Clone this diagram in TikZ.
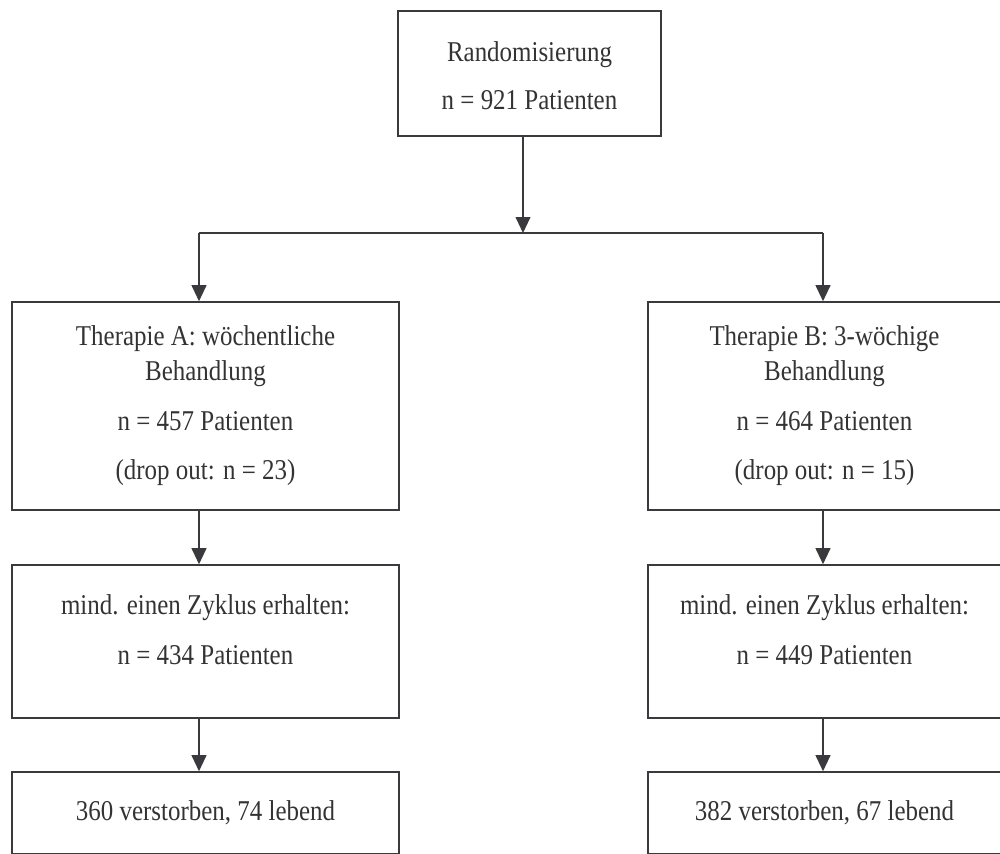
\documentclass[tikz,border=0pt]{standalone}
\usepackage{fontspec}
\setmainfont[FakeStretch=0.87]{Liberation Serif}
\usetikzlibrary{arrows.meta}
\definecolor{strich}{HTML}{3A3A3E}
\definecolor{schrift}{HTML}{333333}

\begin{document}
\begin{tikzpicture}[
    kasten/.style={draw=strich,line width=1.1pt,align=center,inner sep=0pt,text=schrift,
      font=\fontsize{20.4pt}{24.9pt}\selectfont},
    linie/.style={draw=strich,line width=1.1pt},
    pfeil/.style={linie,-{Triangle[length=.4cm,width=.37cm]}}]
  \useasboundingbox (0,0) rectangle (25,-21.325);
  \clip (0,0) rectangle (25,-21.325);
  % Randomisierung
  \node[kasten,minimum width=6.575cm,minimum height=3.125cm] (rand) at (13.2375,-1.8375)
    {\rule{0pt}{.625cm}Randomisierung\\[.325cm] n = 921 Patienten};
  % Therapiearme
  \node[kasten,minimum width=9.675cm,minimum height=5.2cm] (ta) at (5.1375,-10.15)
    {Therapie A: wöchentliche\\ Behandlung\\[.375cm] n = 457 Patienten\\[.35cm] (drop out: n = 23)};
  \node[kasten,minimum width=8.825cm,minimum height=5.2cm] (tb) at (20.6125,-10.15)
    {Therapie B: 3-wöchige\\ Behandlung\\[.375cm] n = 464 Patienten\\[.35cm] (drop out: n = 15)};
  \node[kasten,minimum width=9.675cm,minimum height=3.825cm] (za) at (5.1375,-16.0375)
    {mind. einen Zyklus erhalten:\\[.375cm] n = 434 Patienten\rule[-.6cm]{0pt}{0pt}};
  \node[kasten,minimum width=8.825cm,minimum height=3.825cm] (zb) at (20.6125,-16.0375)
    {mind. einen Zyklus erhalten:\\[.375cm] n = 449 Patienten\rule[-.6cm]{0pt}{0pt}};
  \node[kasten,minimum width=9.675cm,minimum height=2.05cm] (ea) at (5.1375,-20.325)
    {360 verstorben, 74 lebend};
  \node[kasten,minimum width=8.825cm,minimum height=2.05cm] (eb) at (20.6125,-20.325)
    {382 verstorben, 67 lebend};

  \coordinate (gabel) at (13.075,-5.825);
  \coordinate (ka) at ([xshift=-.1625cm]ta.north);
  \coordinate (kb) at ([xshift=-.0375cm]tb.north);
  \draw[pfeil] (rand.south -| gabel) -- (gabel);
  \draw[linie] (gabel -| ka) -- (gabel -| kb);
  \draw[pfeil] (gabel -| ka) -- (ka);
  \draw[pfeil] (gabel -| kb) -- (kb);
  \draw[pfeil] (ta.south -| ka) -- (za.north -| ka);
  \draw[pfeil] (tb.south -| kb) -- (zb.north -| kb);
  \draw[pfeil] (za.south -| ka) -- (ea.north -| ka);
  \draw[pfeil] (zb.south -| kb) -- (eb.north -| kb);
\end{tikzpicture}
\end{document}
